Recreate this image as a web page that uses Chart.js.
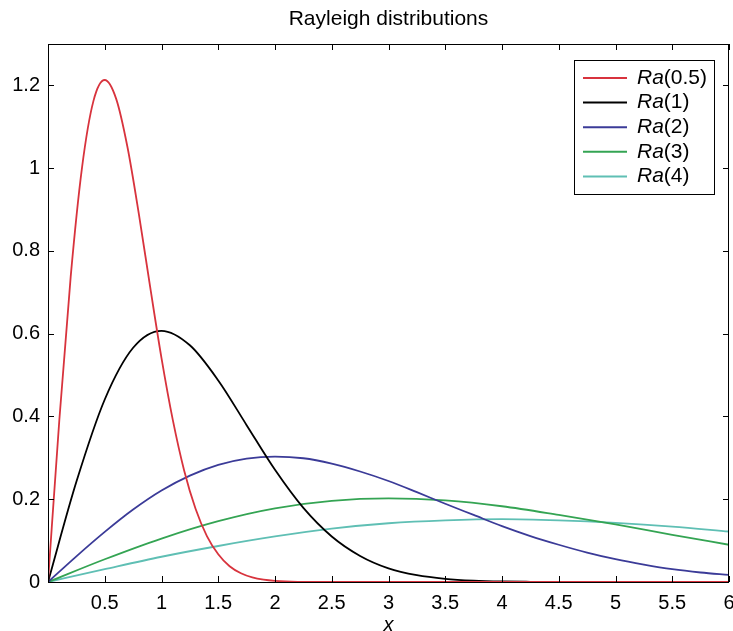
<!DOCTYPE html>
<html>
<head>
<meta charset="utf-8">
<script src="https://cdn.jsdelivr.net/npm/chart.js@4.4.3/dist/chart.umd.min.js"></script>
<style>
  html, body { margin: 0; padding: 0; background: #fff; }
  #wrap { width: 733px; height: 631px; position: relative; }
</style>
</head>
<body>
<div id="wrap"><canvas id="rayleigh"></canvas></div>
<script>
// sample positions and densities for each sigma
const xFine = [0, 0.1, 0.2, 0.3, 0.4, 0.5, 0.6, 0.7, 0.8, 0.9, 1.0, 1.1, 1.2, 1.3, 1.4, 1.5, 1.6, 1.7, 1.8, 1.9, 2.0, 2.2, 2.5, 3, 4, 5, 6];
const ra05 = [0, 0.392, 0.738, 1.002, 1.162, 1.213, 1.168, 1.051, 0.890, 0.713, 0.541, 0.391, 0.269, 0.177, 0.111, 0.067, 0.038, 0.021, 0.011, 0.0055, 0.0027, 0.0005, 0, 0, 0, 0, 0];

const xQuarter = [0, 0.25, 0.5, 0.75, 1, 1.25, 1.5, 1.75, 2, 2.25, 2.5, 2.75, 3, 3.25, 3.5, 3.75, 4, 4.25, 4.5, 4.75, 5, 5.25, 5.5, 5.75, 6];
const ra1 = [0, 0.242, 0.441, 0.566, 0.607, 0.572, 0.487, 0.379, 0.271, 0.179, 0.110, 0.063, 0.033, 0.0165, 0.0077, 0.0033, 0.0013, 0.0005, 0.0001, 0, 0, 0, 0, 0, 0];
const ra2 = [0, 0.062, 0.121, 0.175, 0.221, 0.257, 0.283, 0.298, 0.303, 0.299, 0.286, 0.267, 0.244, 0.217, 0.189, 0.162, 0.135, 0.111, 0.090, 0.071, 0.055, 0.042, 0.031, 0.023, 0.017];

const xHalf = [0, 0.5, 1, 1.5, 2, 2.5, 3, 3.5, 4, 4.5, 5, 5.5, 6];
const ra3 = [0, 0.055, 0.105, 0.147, 0.178, 0.196, 0.202, 0.197, 0.183, 0.162, 0.139, 0.114, 0.090];
const ra4 = [0, 0.031, 0.061, 0.087, 0.110, 0.129, 0.142, 0.149, 0.152, 0.149, 0.143, 0.134, 0.122];

const sigmaLabels = ['0.5', '1', '2', '3', '4'];
const lineColors = ['#d8333d', '#000000', '#3b3b98', '#34a453', '#5fbfb4'];

const xTicks = [0.5, 1, 1.5, 2, 2.5, 3, 3.5, 4, 4.5, 5, 5.5, 6];
const yTicks = [0, 0.2, 0.4, 0.6, 0.8, 1, 1.2];

const FONT = '"Liberation Sans", Arial, Helvetica, sans-serif';

function toPoints(xs, ys) {
  return xs.map((x, i) => ({ x: x, y: ys[i] }));
}

const series = [
  toPoints(xFine, ra05),
  toPoints(xQuarter, ra1),
  toPoints(xQuarter, ra2),
  toPoints(xHalf, ra3),
  toPoints(xHalf, ra4)
];

// box frame with inward ticks on all four sides
const framePlugin = {
  id: 'frame',
  afterDatasetsDraw(chart) {
    const { ctx, chartArea: a, scales } = chart;
    const len = 6;
    ctx.save();
    ctx.strokeStyle = '#000';
    ctx.lineWidth = 1;
    ctx.strokeRect(a.left + 0.5, a.top + 0.5, a.right - a.left - 1, a.bottom - a.top);
    ctx.beginPath();
    xTicks.forEach(v => {
      const px = Math.round(scales.x.getPixelForValue(v)) + 0.5;
      ctx.moveTo(px, a.bottom); ctx.lineTo(px, a.bottom - len);
      ctx.moveTo(px, a.top); ctx.lineTo(px, a.top + len);
    });
    yTicks.forEach(v => {
      const py = Math.round(scales.y.getPixelForValue(v)) + 0.5;
      ctx.moveTo(a.left, py); ctx.lineTo(a.left + len, py);
      ctx.moveTo(a.right, py); ctx.lineTo(a.right - len, py);
    });
    ctx.stroke();

    // title above the box
    ctx.fillStyle = '#000';
    ctx.font = '21px ' + FONT;
    ctx.textAlign = 'center';
    ctx.textBaseline = 'middle';
    ctx.fillText('Rayleigh distributions', (a.left + a.right) / 2, 19);
    ctx.restore();
  }
};

// legend: italic "Ra" followed by upright "(sigma)"
const legendPlugin = {
  id: 'raLegend',
  afterDraw(chart) {
    const ctx = chart.ctx;
    const box = { left: 574.5, top: 60.5, width: 140, height: 134 };
    ctx.save();
    ctx.fillStyle = '#fff';
    ctx.fillRect(box.left, box.top, box.width, box.height);
    ctx.strokeStyle = '#000';
    ctx.lineWidth = 1;
    ctx.strokeRect(box.left, box.top, box.width, box.height);
    ctx.textBaseline = 'middle';
    ctx.textAlign = 'left';
    sigmaLabels.forEach((s, i) => {
      const y = 78 + i * 24.6;
      ctx.strokeStyle = lineColors[i];
      ctx.lineWidth = 2;
      ctx.beginPath();
      ctx.moveTo(583, y); ctx.lineTo(627, y);
      ctx.stroke();
      ctx.fillStyle = '#000';
      ctx.font = 'italic 21px ' + FONT;
      ctx.fillText('Ra', 637, y);
      const w = ctx.measureText('Ra').width;
      ctx.font = '21px ' + FONT;
      ctx.fillText('(' + s + ')', 637 + w, y);
    });
    ctx.restore();
  }
};

new Chart(document.getElementById('rayleigh'), {
  type: 'line',
  data: {
    datasets: series.map((pts, i) => ({
      label: 'Ra(' + sigmaLabels[i] + ')',
      data: pts,
      borderColor: lineColors[i],
      borderWidth: 1.8,
      pointRadius: 0,
      fill: false,
      cubicInterpolationMode: 'monotone'
    }))
  },
  options: {
    responsive: true,
    maintainAspectRatio: false,
    animation: false,
    layout: { padding: { top: 44, right: 4, left: 0, bottom: 0 } },
    plugins: {
      legend: { display: false },
      title: { display: false },
      tooltip: { enabled: false }
    },
    scales: {
      x: {
        type: 'linear',
        min: 0,
        max: 6,
        grid: { display: false, drawTicks: false },
        border: { display: false },
        afterBuildTicks: scale => { scale.ticks = xTicks.map(v => ({ value: v })); },
        afterFit: scale => {
          scale.height = 49;
          scale.paddingRight = 0;
          scale.paddingLeft = 0;
        },
        ticks: {
          padding: 9,
          color: '#000',
          font: { family: FONT, size: 20 },
          callback: v => String(v)
        },
        title: {
          display: true,
          text: 'x',
          color: '#000',
          padding: { top: 0, bottom: -6 },
          font: { family: FONT, size: 20, style: 'italic' }
        }
      },
      y: {
        type: 'linear',
        min: 0,
        max: 1.3,
        grid: { display: false, drawTicks: false },
        border: { display: false },
        afterBuildTicks: scale => { scale.ticks = yTicks.map(v => ({ value: v })); },
        afterFit: scale => {
          scale.width = 48;
          scale.paddingTop = 0;
          scale.paddingBottom = 0;
        },
        ticks: {
          padding: 8,
          color: '#000',
          font: { family: FONT, size: 20 },
          callback: v => String(v)
        }
      }
    }
  },
  plugins: [framePlugin, legendPlugin]
});
</script>
</body>
</html>
